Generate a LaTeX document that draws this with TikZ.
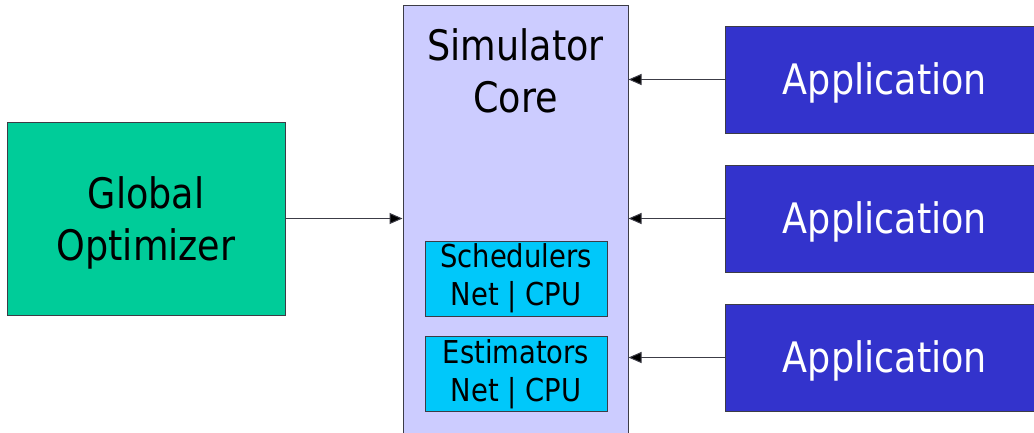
\documentclass[tikz,border=0pt]{standalone}
\usepackage{fontspec}
\setmainfont{DejaVu Sans}[FakeStretch=0.87]
\usetikzlibrary{arrows.meta}
\definecolor{corefill}{RGB}{204,204,255}
\definecolor{gofill}{RGB}{0,204,153}
\definecolor{subfill}{RGB}{0,200,250}
\definecolor{appfill}{RGB}{51,51,204}
\definecolor{edge}{RGB}{60,60,70}
\tikzset{
  box/.style={draw=edge, line width=1pt, inner sep=0pt},
  corebox/.style={box, fill=corefill},
  gobox/.style={box, fill=gofill, minimum width=278pt, minimum height=193pt},
  subbox/.style={box, fill=subfill, minimum width=182pt, minimum height=75pt,
    align=center, font=\fontsize{31.5}{38}\selectfont},
  appbox/.style={box, fill=appfill, text=white, minimum width=320pt, minimum height=107pt,
    text height=30.6pt, text depth=0pt, font=\fontsize{42}{52}\selectfont},
  bigtext/.style={align=center, font=\fontsize{42}{51.5}\selectfont, inner sep=0pt},
  conn/.style={draw=edge, line width=1pt, -{Triangle[length=13pt, width=11pt, fill=black]}},
}
\begin{document}
\begin{tikzpicture}[x=1pt, y=-1pt]
\useasboundingbox (0,0) rectangle (1034,432);
\clip (0,0) rectangle (1034,432);
\fill[white] (0,0) rectangle (1034,432);
% simulator core
\node[corebox, minimum width=225pt, minimum height=440pt] (core) at (515.5,225) {};
\node[bigtext] (coretext) at (515.5,71) {Simulator\\Core};
\node[subbox] (sched) at (516,278.5) {Schedulers\\Net | CPU};
\node[subbox] (est) at (516,374) {Estimators\\Net | CPU};
% global optimizer
\node[gobox] (go) at (146,218.5) {};
\node[bigtext] (gotext) at (146,223) {Global\\Optimizer};
% applications
\node[appbox] (app1) at (885,79.5) {Application};
\node[appbox] (app2) at (885,218.5) {Application};
\node[appbox] (app3) at (885,357.5) {Application};
% connectors
\draw[conn] (go.east) -- (go.east -| core.west);
\draw[conn] (app1.west) -- (app1.west -| core.east);
\draw[conn] (app2.west) -- (app2.west -| core.east);
\draw[conn] (app3.west) -- (app3.west -| core.east);
\end{tikzpicture}
\end{document}
